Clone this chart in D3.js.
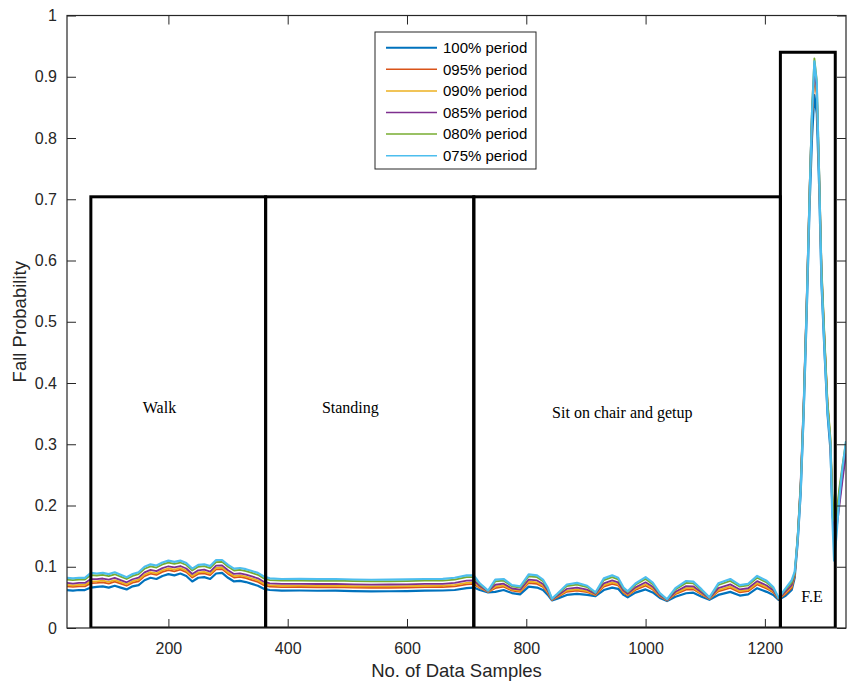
<!DOCTYPE html>
<html>
<head>
<meta charset="utf-8">
<script src="https://cdn.jsdelivr.net/npm/d3@7"></script>
<style>
  body { margin: 0; background: #ffffff; }
  svg { display: block; }
</style>
</head>
<body>
<svg id="chart" width="847" height="683"></svg>
<script>
// Sample index along the recording
const samples = [30,40,50,60,70,80,90,100,110,120,130,140,150,160,170,180,190,200,210,220,230,240,250,260,270,280,290,300,310,320,330,340,350,360,
  370,390,420,450,480,510,540,570,600,630,660,680,700,712,
  722,736,748,762,776,790,804,818,828,836,843,852,868,885,902,916,930,944,954,963,970,983,1000,1012,1024,1036,1050,1068,1080,1094,1107,1122,1142,1158,1172,1187,1203,1214,1223,
  1234,1245,1250,1255,1260,1265,1270,1275,1279,1283,1287,1291,1295,1300,1305,1310,1313,1316,1320,1325,1330,1336];

// Fall probability per window length
const period100 = [.0620,.0610,.0620,.0620,.0660,.0670,.0680,.0660,.0690,.0660,.0630,.0680,.0700,.0780,.0820,.0800,.0850,.0880,.0860,.0890,.0850,.0760,.0820,.0830,.0800,.0890,.0900,.0820,.0760,.0770,.0750,.0720,.0690,.0640,
  .0620,.0610,.0612,.0608,.0610,.0602,.0598,.0600,.0603,.0610,.0612,.0620,.0650,.0660,
  .0620,.0580,.0590,.0620,.0570,.0550,.0675,.0660,.0620,.0540,.0450,.0480,.0540,.0556,.0540,.0520,.0620,.0660,.0640,.0540,.0500,.0577,.0630,.0580,.0490,.0440,.0510,.0567,.0577,.0510,.0460,.0540,.0590,.0530,.0550,.0650,.0590,.0540,.0460,
  .052,.062,.082,.140,.220,.350,.510,.690,.800,.870,.840,.720,.560,.450,.350,.290,.200,.150,.170,.210,.250,.290];

const period095 = [.0680,.0670,.0680,.0680,.0732,.0736,.0746,.0726,.0756,.0723,.0690,.0740,.0763,.0846,.0886,.0866,.0916,.0946,.0926,.0953,.0913,.0823,.0883,.0893,.0863,.0956,.0963,.0883,.0823,.0833,.0813,.0783,.0753,.0700,
  .0677,.0667,.0669,.0665,.0667,.0659,.0655,.0657,.0660,.0667,.0669,.0680,.0713,.0720,
  .0653,.0589,.0650,.0674,.0609,.0589,.0735,.0720,.0671,.0576,.0459,.0504,.0591,.0610,.0585,.0538,.0677,.0720,.0694,.0576,.0530,.0622,.0690,.0628,.0514,.0449,.0552,.0627,.0631,.0546,.0472,.0597,.0653,.0581,.0601,.0710,.0644,.0579,.0469,
  .055,.065,.085,.145,.230,.360,.525,.710,.830,.900,.870,.730,.575,.465,.365,.300,.210,.165,.175,.220,.255,.295];

const period090 = [.0704,.0694,.0704,.0704,.0761,.0762,.0772,.0752,.0782,.0748,.0714,.0764,.0788,.0872,.0912,.0892,.0942,.0972,.0952,.0978,.0938,.0848,.0908,.0918,.0888,.0982,.0988,.0908,.0848,.0858,.0838,.0808,.0778,.0724,
  .0700,.0690,.0692,.0688,.0690,.0682,.0678,.0680,.0683,.0690,.0692,.0704,.0738,.0744,
  .0666,.0593,.0674,.0696,.0625,.0605,.0759,.0744,.0691,.0590,.0463,.0514,.0611,.0632,.0603,.0545,.0700,.0744,.0716,.0590,.0542,.0640,.0714,.0647,.0524,.0453,.0569,.0651,.0653,.0560,.0477,.0620,.0678,.0601,.0621,.0734,.0666,.0595,.0473,
  .057,.068,.087,.148,.235,.365,.530,.715,.840,.905,.875,.740,.580,.470,.370,.305,.215,.170,.180,.225,.260,.300];

const period085 = [.0736,.0726,.0736,.0736,.0799,.0798,.0808,.0788,.0818,.0782,.0746,.0796,.0822,.0908,.0948,.0928,.0978,.1008,.0988,.1012,.0972,.0882,.0942,.0952,.0922,.1018,.1022,.0942,.0882,.0892,.0872,.0842,.0812,.0756,
  .0730,.0720,.0722,.0718,.0720,.0712,.0708,.0710,.0713,.0720,.0722,.0736,.0772,.0776,
  .0684,.0597,.0706,.0724,.0645,.0625,.0791,.0776,.0719,.0610,.0467,.0526,.0639,.0660,.0627,.0555,.0730,.0776,.0744,.0610,.0558,.0664,.0746,.0673,.0536,.0457,.0591,.0683,.0681,.0580,.0483,.0650,.0712,.0629,.0649,.0766,.0694,.0615,.0477,
  .059,.070,.088,.150,.240,.370,.535,.720,.845,.910,.880,.745,.585,.470,.365,.300,.190,.155,.160,.200,.240,.285];

const period080 = [.0790,.0780,.0790,.0790,.0864,.0857,.0867,.0847,.0877,.0839,.0800,.0850,.0879,.0967,.1007,.0987,.1037,.1067,.1047,.1069,.1029,.0939,.0999,.1009,.0979,.1077,.1079,.0999,.0939,.0949,.0929,.0899,.0869,.0810,
  .0782,.0772,.0774,.0770,.0772,.0764,.0760,.0762,.0765,.0772,.0774,.0790,.0829,.0830,
  .0714,.0606,.0760,.0773,.0680,.0660,.0845,.0830,.0765,.0642,.0476,.0548,.0685,.0709,.0668,.0571,.0782,.0830,.0793,.0642,.0585,.0705,.0800,.0716,.0558,.0466,.0629,.0737,.0730,.0612,.0494,.0702,.0769,.0675,.0695,.0820,.0743,.0650,.0486,
  .062,.074,.090,.152,.235,.365,.530,.720,.850,.930,.895,.750,.590,.475,.370,.310,.220,.175,.185,.230,.265,.305];

const period075 = [.0820,.0810,.0820,.0820,.0900,.0890,.0900,.0880,.0910,.0870,.0830,.0880,.0910,.1000,.1040,.1020,.1070,.1100,.1080,.1100,.1060,.0970,.1030,.1040,.1010,.1110,.1110,.1030,.0970,.0980,.0960,.0930,.0900,.0840,
  .0810,.0800,.0802,.0798,.0800,.0792,.0788,.0790,.0793,.0800,.0802,.0820,.0860,.0860,
  .0730,.0610,.0790,.0800,.0700,.0680,.0875,.0860,.0790,.0660,.0480,.0560,.0710,.0736,.0690,.0580,.0810,.0860,.0820,.0660,.0600,.0727,.0830,.0740,.0570,.0470,.0650,.0767,.0757,.0630,.0500,.0730,.0800,.0700,.0720,.0850,.0770,.0670,.0490,
  .064,.078,.092,.145,.225,.355,.520,.705,.840,.925,.890,.735,.570,.455,.355,.300,.180,.110,.150,.215,.260,.305];

const seriesNames = ["100% period", "095% period", "090% period", "085% period", "080% period", "075% period"];
const seriesValues = [period100, period095, period090, period085, period080, period075];
const seriesColors = ["#0072BD", "#D95319", "#EDB120", "#7E2F8E", "#77AC30", "#4DBEEE"];
const seriesWidths = [2.2, 1.8, 1.8, 1.8, 1.8, 2.2];
const legendWidths = [2, 1.5, 1.5, 1.5, 1.5, 1.5];

const xTicks = [200, 400, 600, 800, 1000, 1200];
const yTicks = [0, 0.1, 0.2, 0.3, 0.4, 0.5, 0.6, 0.7, 0.8, 0.9, 1];

// Activity segments: sample range and box height
const segStart = [70, 363, 712, 1226];
const segEnd   = [363, 712, 1226, 1318];
const segTop   = [0.704, 0.704, 0.704, 0.94];
const segLabel = ["Walk", "Standing", "Sit on chair and getup", "F.E"];
const segLabelX = [185, 505, 961, 1279];
const segLabelY = [0.36, 0.36, 0.352, 0.052];

const svg = d3.select("#chart");
const margin = { left: 67, right: 1, top: 15.5, bottom: 55 };
const W = 847, H = 683;

const x = d3.scaleLinear().domain([30, 1336]).range([margin.left, W - margin.right]);
const y = d3.scaleLinear().domain([0, 1]).range([H - margin.bottom, margin.top]);

const axisColor = "#262626";
const sans = "'Liberation Sans', Arial, Helvetica, sans-serif";
const serif = "'Liberation Serif', 'Times New Roman', serif";

svg.append("defs").append("clipPath").attr("id", "plotClip")
  .append("rect")
  .attr("x", x.range()[0]).attr("y", y.range()[1])
  .attr("width", x.range()[1] - x.range()[0])
  .attr("height", y.range()[0] - y.range()[1]);

// Curves, drawn from 100% period up to 075% period
const line = d3.line()
  .x((d, i) => x(samples[i]))
  .y(d => y(d));

const curves = svg.append("g").attr("clip-path", "url(#plotClip)");
seriesValues.forEach((vals, k) => {
  curves.append("path")
    .datum(vals)
    .attr("d", line)
    .attr("fill", "none")
    .attr("stroke", seriesColors[k])
    .attr("stroke-width", seriesWidths[k])
    .attr("stroke-linejoin", "round");
});

// Activity boxes
const boxes = svg.append("g").attr("clip-path", "url(#plotClip)");
segStart.forEach((s, i) => {
  boxes.append("rect")
    .attr("x", x(s))
    .attr("y", y(segTop[i]))
    .attr("width", x(segEnd[i]) - x(s))
    .attr("height", y(0) - y(segTop[i]))
    .attr("fill", "none")
    .attr("stroke", "#000")
    .attr("stroke-width", 3);
});

segLabel.forEach((t, i) => {
  svg.append("text")
    .attr("x", x(segLabelX[i]))
    .attr("y", y(segLabelY[i]))
    .attr("text-anchor", "middle")
    .attr("dy", "0.35em")
    .attr("font-family", serif)
    .attr("font-size", 16)
    .attr("fill", "#000")
    .text(t);
});

// Axes with inward ticks on all four sides
function styleAxis(g) {
  g.select(".domain").remove();
  g.selectAll(".tick line").attr("stroke", axisColor).attr("stroke-width", 1);
  g.selectAll(".tick text").attr("fill", axisColor).attr("font-family", sans).attr("font-size", 16);
}

svg.append("g")
  .attr("transform", `translate(0,${y(0)})`)
  .call(d3.axisBottom(x).tickValues(xTicks).tickSize(-9).tickPadding(15).tickFormat(d3.format("d")))
  .call(styleAxis);

svg.append("g")
  .attr("transform", `translate(0,${y(1)})`)
  .call(d3.axisTop(x).tickValues(xTicks).tickSize(-9).tickFormat(""))
  .call(styleAxis);

svg.append("g")
  .attr("transform", `translate(${x.range()[0]},0)`)
  .call(d3.axisLeft(y).tickValues(yTicks).tickSize(-9).tickPadding(10).tickFormat(d3.format("~g")))
  .call(styleAxis);

svg.append("g")
  .attr("transform", `translate(${x.range()[1]},0)`)
  .call(d3.axisRight(y).tickValues(yTicks).tickSize(-9).tickFormat(""))
  .call(styleAxis);

// Plot frame
svg.append("rect")
  .attr("x", x.range()[0]).attr("y", y.range()[1])
  .attr("width", x.range()[1] - x.range()[0])
  .attr("height", y.range()[0] - y.range()[1])
  .attr("fill", "none")
  .attr("stroke", axisColor)
  .attr("stroke-width", 1.2);

// Axis titles
svg.append("text")
  .attr("x", (x.range()[0] + x.range()[1]) / 2)
  .attr("y", 677)
  .attr("text-anchor", "middle")
  .attr("font-family", sans)
  .attr("font-size", 18.5)
  .attr("fill", axisColor)
  .text("No. of Data Samples");

svg.append("text")
  .attr("transform", `translate(26,${(y.range()[0] + y.range()[1]) / 2}) rotate(-90)`)
  .attr("text-anchor", "middle")
  .attr("font-family", sans)
  .attr("font-size", 18.5)
  .attr("fill", axisColor)
  .text("Fall Probability");

// Legend
const legend = svg.append("g").attr("transform", "translate(375,32)");
legend.append("rect")
  .attr("width", 161).attr("height", 137)
  .attr("fill", "#fff")
  .attr("stroke", axisColor)
  .attr("stroke-width", 1);
seriesNames.forEach((name, k) => {
  const ry = 15.7 + k * 21.6;
  legend.append("line")
    .attr("x1", 11).attr("x2", 62)
    .attr("y1", ry).attr("y2", ry)
    .attr("stroke", seriesColors[k])
    .attr("stroke-width", legendWidths[k]);
  legend.append("text")
    .attr("x", 68).attr("y", ry)
    .attr("dy", "0.35em")
    .attr("font-family", sans)
    .attr("font-size", 15)
    .attr("fill", "#000")
    .text(name);
});
</script>
</body>
</html>
